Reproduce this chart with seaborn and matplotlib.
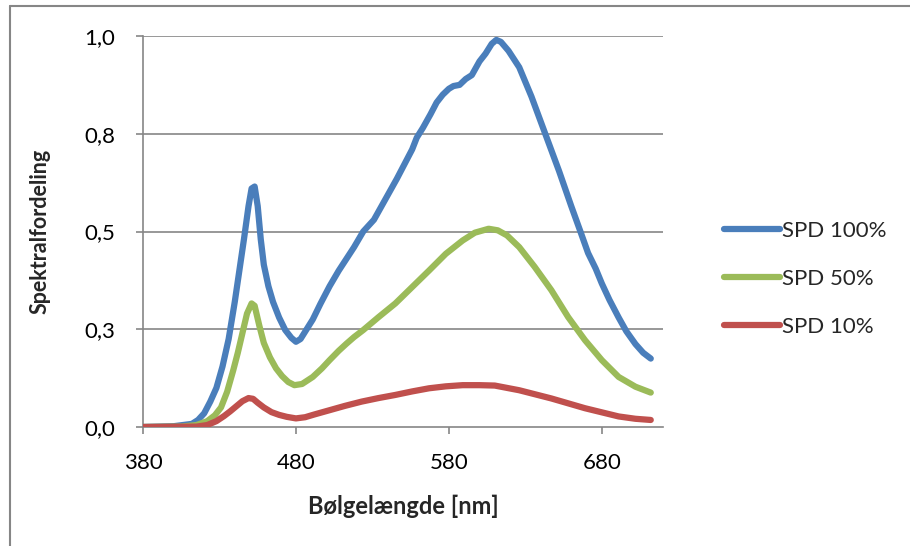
import pandas as pd
import matplotlib.pyplot as plt
import matplotlib.lines as mlines
import seaborn as sns

# Spektraldata (bølgelængde i nm, relativ SPD)
nm_100 = [380, 400, 412, 416, 420, 424, 428, 432, 436, 440, 443, 446, 449, 451, 453, 455,
          457, 459, 462, 465, 469, 473, 477, 480, 483, 487, 491, 496, 502, 508, 513, 518,
          524, 531, 536, 541, 546, 552, 556, 559, 563, 568, 572, 576, 580, 583, 587, 591,
          595, 600, 604, 608, 611, 614, 619, 626, 634, 643, 652, 660, 666, 671, 676, 680,
          685, 691, 696, 702, 707, 712]
spd_100 = [0.0, 0.002, 0.008, 0.018, 0.035, 0.065, 0.10, 0.155, 0.225, 0.32, 0.40, 0.48,
           0.565, 0.61, 0.615, 0.565, 0.48, 0.415, 0.36, 0.32, 0.28, 0.248, 0.228, 0.218,
           0.225, 0.25, 0.275, 0.315, 0.36, 0.40, 0.43, 0.46, 0.50, 0.53, 0.565, 0.60,
           0.635, 0.68, 0.71, 0.74, 0.765, 0.80, 0.83, 0.85, 0.865, 0.872, 0.875, 0.89,
           0.90, 0.935, 0.955, 0.98, 0.99, 0.985, 0.962, 0.92, 0.845, 0.75, 0.655, 0.565,
           0.50, 0.445, 0.405, 0.367, 0.325, 0.28, 0.245, 0.212, 0.19, 0.175]

nm_50 = [380, 405, 415, 422, 427, 431, 435, 439, 442, 445, 448, 451, 453, 456, 459, 463, 467,
         471, 475, 479, 484, 491, 497, 502, 508, 513, 518, 524, 534, 545, 556, 567, 578, 589,
         597, 606, 612, 618, 626, 636, 647, 658, 669, 680, 691, 702, 712]
spd_50 = [0.0, 0.001, 0.005, 0.015, 0.03, 0.05, 0.09, 0.145, 0.19, 0.24, 0.29, 0.316, 0.31,
          0.26, 0.215, 0.178, 0.15, 0.13, 0.115, 0.107, 0.11, 0.128, 0.15, 0.171, 0.195, 0.213,
          0.23, 0.248, 0.281, 0.316, 0.358, 0.40, 0.443, 0.477, 0.497, 0.507, 0.503, 0.49,
          0.46, 0.41, 0.35, 0.281, 0.222, 0.171, 0.128, 0.103, 0.088]

nm_10 = [380, 415, 422, 428, 433, 437, 441, 445, 449, 452, 455, 459, 464, 469, 474, 480, 486,
         492, 502, 512, 523, 534, 545, 556, 567, 578, 589, 600, 610, 626, 647, 669, 691, 702,
         712]
spd_10 = [0.0, 0.001, 0.005, 0.015, 0.028, 0.04, 0.053, 0.066, 0.074, 0.072, 0.062, 0.05,
          0.038, 0.031, 0.026, 0.022, 0.025, 0.032, 0.043, 0.054, 0.065, 0.074, 0.082, 0.091,
          0.099, 0.104, 0.107, 0.107, 0.106, 0.094, 0.073, 0.048, 0.027, 0.021, 0.018]

serier = ['SPD 100%', 'SPD 50%', 'SPD 10%']
farver = ['#4A7EBB', '#9BBB59', '#C0504D']

x_ticks = [380, 480, 580, 680]
y_ticks = [0.0, 0.25, 0.5, 0.75, 1.0]
y_labels = ['0,0', '0,3', '0,5', '0,8', '1,0']

df = pd.concat([
    pd.DataFrame({'nm': nm_100, 'spd': spd_100, 'serie': serier[0]}),
    pd.DataFrame({'nm': nm_50, 'spd': spd_50, 'serie': serier[1]}),
    pd.DataFrame({'nm': nm_10, 'spd': spd_10, 'serie': serier[2]}),
])

sns.set_theme(style="white")
plt.rcParams['font.family'] = ['Lato', 'DejaVu Sans']

fig = plt.figure(figsize=(9.1, 5.46), dpi=100)
ax = fig.add_axes([143 / 910, 1 - 427 / 546, (663 - 143) / 910, (427 - 36) / 546])

grå = '#868686'
for y in y_ticks[1:]:
    ax.axhline(y, color=grå, lw=1.2, zorder=0)

sns.lineplot(data=df, x='nm', y='spd', hue='serie', palette=dict(zip(serier, farver)),
             hue_order=serier, lw=4.5, sort=False, estimator=None, legend=False, ax=ax,
             solid_capstyle='round', solid_joinstyle='round', zorder=3)

ax.set_xlim(380, 720)
ax.set_ylim(0, 1.0)
ax.set_xticks(x_ticks)
ax.set_xticklabels([str(v) for v in x_ticks])
ax.set_yticks(y_ticks)
ax.set_yticklabels(y_labels)
ax.tick_params(axis='both', direction='out', length=5, width=1.2, color=grå,
               labelsize=16, colors='black')
ax.tick_params(axis='x', pad=14)
ax.tick_params(axis='y', pad=15)
ax.tick_params(left=True, bottom=True)

for side in ['top', 'right']:
    ax.spines[side].set_visible(False)
for side in ['left', 'bottom']:
    ax.spines[side].set_color(grå)
    ax.spines[side].set_linewidth(1.2)

ax.set_xlabel('Bølgelængde [nm]', fontsize=17, fontweight='bold', labelpad=15)
ax.set_ylabel('Spektralfordeling', fontsize=15.5, fontweight='bold', labelpad=24)

handles = [mlines.Line2D([], [], color=c, lw=4.5, solid_capstyle='round') for c in farver]
fig.legend(handles, serier, loc='center left', bbox_to_anchor=(724 / 910, 1 - 279 / 546),
           frameon=False, fontsize=16, handlelength=2.5, handletextpad=0.12,
           labelspacing=1.27, borderpad=0, borderaxespad=0)

# ramme om diagramområdet (kun venstre og øverste kant er synlige)
fig.add_artist(mlines.Line2D([10 / 910, 10 / 910], [0, 1 - 6 / 546], color=grå, lw=1.5))
fig.add_artist(mlines.Line2D([10 / 910, 1], [1 - 6 / 546, 1 - 6 / 546], color=grå, lw=1.5))

fig.savefig('out.png', dpi=100)
